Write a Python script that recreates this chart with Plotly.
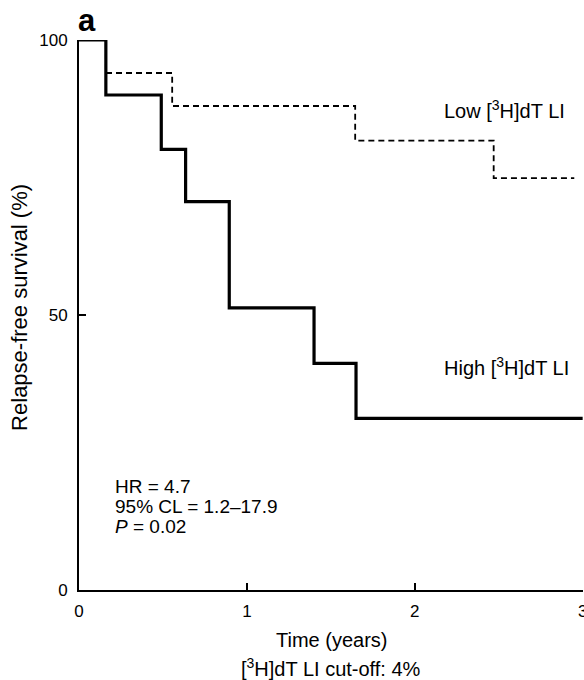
import plotly.graph_objects as go

# Data (Kaplan-Meier style step curves)
high_time = [0, 0.16, 0.49, 0.635, 0.895, 1.40, 1.65, 3.0]
high_surv = [100, 90.0, 80.1, 70.6, 51.3, 41.2, 31.2, 31.2]

low_time = [0, 0.16, 0.555, 1.645, 2.47, 2.95]
low_surv = [100, 94.0, 88.0, 81.7, 74.9, 74.9]

x_ticks = [0, 1, 2, 3]
y_ticks = [0, 50, 100]

FONT = "Liberation Sans, Arial, Helvetica, sans-serif"

fig = go.Figure()
fig.add_trace(go.Scatter(x=low_time, y=low_surv, mode="lines", line_shape="hv",
                         line=dict(color="black", width=1.8, dash="6px,4px"),
                         showlegend=False, hoverinfo="skip"))
fig.add_trace(go.Scatter(x=high_time, y=high_surv, mode="lines", line_shape="hv",
                         line=dict(color="black", width=3.2),
                         showlegend=False, hoverinfo="skip"))

ann = []
ann.append(dict(x=2.16, y=87.3, xref="x", yref="y", xanchor="left", yanchor="middle",
                text="Low [<sup>3</sup>H]dT LI", showarrow=False,
                font=dict(family=FONT, size=20, color="black")))
ann.append(dict(x=2.16, y=40.7, xref="x", yref="y", xanchor="left", yanchor="middle",
                text="High [<sup>3</sup>H]dT LI", showarrow=False,
                font=dict(family=FONT, size=20, color="black")))
for txt, yy in [("HR = 4.7", 18.9), ("95% CL = 1.2–17.9", 15.1), ("<i>P</i> = 0.02", 11.5)]:
    ann.append(dict(x=0.202, y=yy, xref="x", yref="y", xanchor="left", yanchor="middle",
                    text=txt, showarrow=False,
                    font=dict(family=FONT, size=19, color="black")))
# last x tick label (Plotly drops it because it overflows the page edge)
ann.append(dict(x=x_ticks[-1], y=-0.0382, xref="x", yref="paper", xanchor="center", yanchor="middle",
                text=str(x_ticks[-1]), showarrow=False,
                font=dict(family=FONT, size=17, color="black")))
ann.append(dict(x=0.5, y=-0.0909, xref="paper", yref="paper", xanchor="center", yanchor="middle",
                text="Time (years)", showarrow=False,
                font=dict(family=FONT, size=20, color="black")))
ann.append(dict(x=0.5, y=-0.1400, xref="paper", yref="paper", xanchor="center", yanchor="middle",
                text="[<sup>3</sup>H]dT LI cut-off: 4%", showarrow=False,
                font=dict(family=FONT, size=20, color="black")))
ann.append(dict(x=-0.117, y=0.513, xref="paper", yref="paper", xanchor="center", yanchor="middle",
                text="Relapse-free survival (%)", textangle=-90, showarrow=False,
                font=dict(family=FONT, size=22, color="black")))
ann.append(dict(x=0.015, y=1.0, xref="paper", yref="paper", xanchor="center", yanchor="bottom",
                text="<b>a</b>", showarrow=False,
                font=dict(family=FONT, size=31, color="black")))

fig.update_layout(
    width=584, height=680,
    margin=dict(l=79, r=1, t=40, b=90),
    paper_bgcolor="white", plot_bgcolor="white",
    annotations=ann,
    xaxis=dict(range=[0, 3.002], tickvals=x_ticks, ticktext=[str(v) for v in x_ticks],
               ticks="inside", ticklen=7, tickwidth=2, tickcolor="black",
               showline=True, linecolor="black", linewidth=2, showgrid=False, zeroline=False,
               ticklabelstandoff=5,
               tickfont=dict(family=FONT, size=17, color="black")),
    yaxis=dict(range=[0, 100], tickvals=y_ticks, ticktext=[str(v) for v in y_ticks],
               ticks="inside", ticklen=7, tickwidth=2, tickcolor="black",
               showline=True, linecolor="black", linewidth=2, showgrid=False, zeroline=False,
               ticklabelstandoff=6,
               tickfont=dict(family=FONT, size=17, color="black")),
)

fig.write_html("out.html", config={"displayModeBar": False},
               post_script="document.body.style.margin='0';document.body.style.overflow='hidden';")
